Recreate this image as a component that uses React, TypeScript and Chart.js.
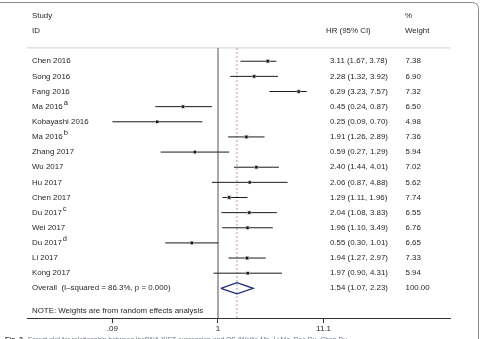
import React, { useEffect, useRef } from "react";
import { Chart, registerables } from "chart.js";

Chart.register(...registerables);

const studies = ["Chen 2016", "Song 2016", "Fang 2016", "Ma 2016", "Kobayashi 2016", "Ma 2016", "Zhang 2017", "Wu 2017", "Hu 2017", "Chen 2017", "Du 2017", "Wei 2017", "Du 2017", "Li 2017", "Kong 2017"];
const supers = ["", "", "", "a", "", "b", "", "", "", "", "c", "", "d", "", ""];
const hr = [3.11, 2.28, 6.29, 0.45, 0.25, 1.91, 0.59, 2.40, 2.06, 1.29, 2.04, 1.96, 0.55, 1.94, 1.97];
const lo = [1.67, 1.32, 3.23, 0.24, 0.09, 1.26, 0.27, 1.44, 0.87, 1.11, 1.08, 1.10, 0.30, 1.27, 0.90];
const hi = [3.78, 3.92, 7.57, 0.87, 0.70, 2.89, 1.29, 4.01, 4.88, 1.96, 3.83, 3.49, 1.01, 2.97, 4.31];
const weights = [7.38, 6.90, 7.32, 6.50, 4.98, 7.36, 5.94, 7.02, 5.62, 7.74, 6.55, 6.76, 6.65, 7.33, 5.94];
const overallHr = 1.54;
const overallLo = 1.07;
const overallHi = 2.23;
const overallWeight = 100.0;
const overallLabel = "Overall  (I\u2013squared = 86.3%, p = 0.000)";
const noteText = "NOTE: Weights are from random effects analysis";
const xTicks = [0.09, 1, 11.1];
const xTickLabels = [".09", "1", "11.1"];

const FONT = '"Liberation Sans", Arial, sans-serif';
const TEXT = "#231f20";
const X_MIN = 0.01285;
const X_MAX = 198.2;
const Y_MIN = -3.78;
const Y_MAX = 16.96;
const HEADER_ROW = -0.88;

export default function App() {
  const ref = useRef<HTMLCanvasElement | null>(null);

  useEffect(() => {
    document.body.style.margin = "0";
    document.body.style.overflow = "hidden";
    const canvas = ref.current;
    if (!canvas) return;
    const n = studies.length;
    const ovRow = n;

    const whiskers: any[] = [];
    for (let i = 0; i < n; i++) {
      whiskers.push({ x: lo[i], y: i }, { x: hi[i], y: i }, { x: hi[i], y: NaN });
    }
    const pts = hr.map((v, i) => ({ x: v, y: i }));

    const textPlugin = {
      id: "forestText",
      afterDraw(chart: any) {
        const ctx = chart.ctx as CanvasRenderingContext2D;
        const y = chart.scales.y;
        const py = (r: number) => y.getPixelForValue(r);
        ctx.save();
        ctx.fillStyle = TEXT;
        ctx.textBaseline = "middle";
        ctx.textAlign = "left";
        const f = `7.9px ${FONT}`;
        ctx.font = f;
        ctx.fillText("Study", 32, py(-3));
        ctx.fillText("ID", 32, py(-2));
        ctx.fillText("HR (95% CI)", 326, py(-2));
        ctx.fillText("%", 405, py(-3));
        ctx.fillText("Weight", 405, py(-2));
        for (let i = 0; i < n; i++) {
          const yy = py(i);
          ctx.font = f;
          ctx.fillText(studies[i], 32, yy);
          const w = ctx.measureText(studies[i]).width;
          ctx.fillText(`${hr[i].toFixed(2)} (${lo[i].toFixed(2)}, ${hi[i].toFixed(2)})`, 330, yy);
          ctx.fillText(weights[i].toFixed(2), 405.5, yy);
          if (supers[i]) {
            ctx.font = `7.5px ${FONT}`;
            ctx.fillText(supers[i], 32 + w + 1, yy - 3.5);
          }
        }
        ctx.font = f;
        ctx.fillText(overallLabel, 32, py(ovRow));
        ctx.fillText(`${overallHr.toFixed(2)} (${overallLo.toFixed(2)}, ${overallHi.toFixed(2)})`, 330, py(ovRow));
        ctx.fillText(overallWeight.toFixed(2), 405.5, py(ovRow));
        ctx.fillText(noteText, 32, py(ovRow + 1.5));

        // caption (cut off at bottom)
        ctx.textBaseline = "alphabetic";
        ctx.font = `bold 6.8px ${FONT}`;
        ctx.fillStyle = "#333";
        ctx.fillText("Fig. 2", 5, 341.5);
        ctx.font = `6.8px ${FONT}`;
        ctx.fillStyle = "#6a7380";
        ctx.fillText("Forest plot for relationship between lncRNA XIST expression and OS (Weijie Ma, Li Ma, Bao Du, Chen Du", 28, 341.5);

        // frame
        ctx.strokeStyle = "#8a8a8a";
        ctx.lineWidth = 1;
        ctx.beginPath();
        ctx.moveTo(-5, 2.5);
        ctx.lineTo(472, 2.5);
        ctx.arcTo(478.5, 2.5, 478.5, 9, 6);
        ctx.lineTo(478.5, 345);
        ctx.stroke();
        ctx.restore();
      },
    };

    const chart = new Chart(canvas, {
      type: "scatter",
      data: {
        datasets: [
          {
            data: pts,
            pointStyle: "rect",
            pointRadius: 1.7,
            backgroundColor: "#111",
            borderWidth: 0,
            order: 0,
          },
          {
            data: pts,
            pointStyle: "rect",
            pointRadius: weights.map((w) => 1.2 + w * 0.22),
            backgroundColor: "#b5b5b5",
            borderWidth: 0,
            order: 1,
          },
          {
            data: whiskers,
            showLine: true,
            spanGaps: false,
            borderColor: "#1a1a1a",
            borderWidth: 1,
            pointRadius: 0,
            order: 2,
          },
          {
            data: [
              { x: overallLo, y: ovRow },
              { x: overallHr, y: ovRow - 0.37 },
              { x: overallHi, y: ovRow },
              { x: overallHr, y: ovRow + 0.37 },
              { x: overallLo, y: ovRow },
            ],
            showLine: true,
            borderColor: "#1f2a78",
            borderWidth: 1.3,
            pointRadius: 0,
            fill: false,
            order: 0,
          },
          {
            data: [{ x: overallHr, y: HEADER_ROW }, { x: overallHr, y: Y_MAX }],
            showLine: true,
            borderColor: "#c9a1aa",
            borderWidth: 1.2,
            borderDash: [2, 2],
            pointRadius: 0,
            order: 3,
          },
          {
            data: [{ x: 1, y: HEADER_ROW }, { x: 1, y: Y_MAX }],
            showLine: true,
            borderColor: "#8c8c8c",
            borderWidth: 1.5,
            pointRadius: 0,
            order: 4,
          },
          {
            data: [{ x: X_MIN, y: HEADER_ROW }, { x: X_MAX, y: HEADER_ROW }],
            showLine: true,
            borderColor: "#cfcfcf",
            borderWidth: 1,
            pointRadius: 0,
            order: 5,
          },
        ],
      },
      options: {
        animation: false,
        responsive: false,
        maintainAspectRatio: false,
        layout: { padding: { left: 27, right: 30, top: 0, bottom: 0 } },
        plugins: { legend: { display: false }, tooltip: { enabled: false } },
        scales: {
          x: {
            type: "logarithmic",
            min: X_MIN,
            max: X_MAX,
            afterBuildTicks: (scale: any) => {
              scale.ticks = xTicks.map((v) => ({ value: v }));
            },
            afterFit: (scale: any) => {
              scale.height = 21;
            },
            ticks: {
              autoSkip: false,
              maxRotation: 0,
              padding: 1,
              color: TEXT,
              font: { family: FONT, size: 8 },
              callback: (v: any) => {
                const idx = xTicks.findIndex((t) => Math.abs(t - Number(v)) < 1e-9);
                return idx >= 0 ? xTickLabels[idx] : "";
              },
            },
            grid: {
              display: true,
              drawOnChartArea: false,
              drawTicks: true,
              tickLength: 5,
              color: "#333",
            },
            border: { display: true, color: "#333", width: 1 },
          },
          y: {
            type: "linear",
            display: false,
            min: Y_MIN,
            max: Y_MAX,
            reverse: true,
          },
        },
      },
      plugins: [textPlugin],
    } as any);

    return () => chart.destroy();
  }, []);

  return <canvas ref={ref} width={480} height={339} style={{ display: "block" }} />;
}
